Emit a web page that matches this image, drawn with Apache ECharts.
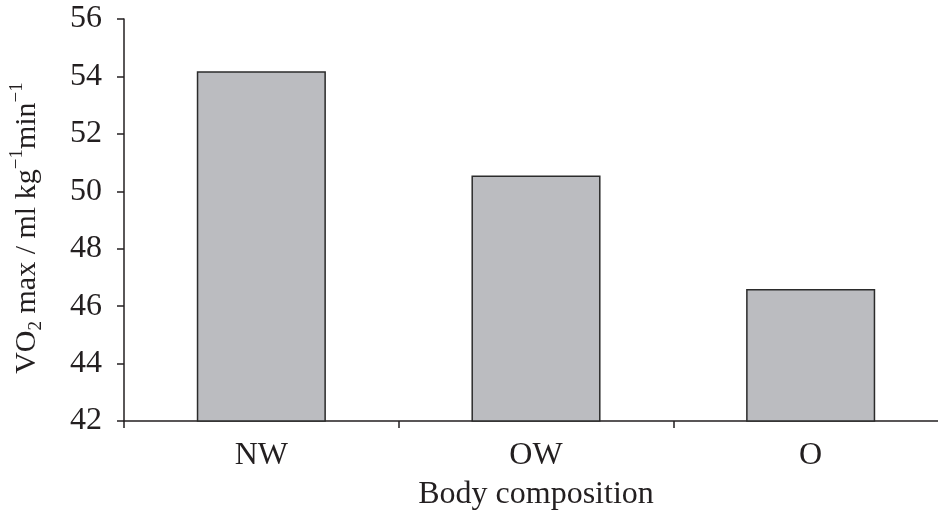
<!DOCTYPE html>
<html>
<head>
<meta charset="utf-8">
<script src="https://cdn.jsdelivr.net/npm/echarts@6/dist/echarts.min.js"></script>
<style>
  html, body { margin: 0; padding: 0; background: #fff; }
  #chart { width: 938px; height: 513px; }
</style>
</head>
<body>
<div id="chart"></div>
<script>
// body composition groups
var categories = ['NW', 'OW', 'O'];
// VO2 max, ml/kg/min
var vo2Values = [54.18, 50.55, 46.6];
var yTicks = [42, 44, 46, 48, 50, 52, 54, 56];

var FONT = '"Liberation Serif", "Times New Roman", serif';
var INK = '#231f20';

var chart = echarts.init(document.getElementById('chart'));

var option = {
  backgroundColor: '#fff',
  animation: false,
  grid: {
    left: 124,
    right: -10,
    top: 19,
    bottom: 92,
    outerBoundsMode: 'none',
    containLabel: false
  },
  xAxis: {
    type: 'category',
    data: categories,
    name: 'Body composition',
    nameLocation: 'middle',
    nameGap: 58,
    nameTextStyle: { fontFamily: FONT, fontSize: 32, color: INK },
    axisLine: { lineStyle: { color: INK, width: 1.5 } },
    axisTick: { show: true, length: 7, lineStyle: { color: INK, width: 1.5 } },
    axisLabel: { fontFamily: FONT, fontSize: 32, color: INK, margin: 19 }
  },
  yAxis: {
    type: 'value',
    min: yTicks[0],
    max: yTicks[yTicks.length - 1],
    interval: 2,
    name: '{n|VO}{s|2}{n| max / ml kg}{u|\u22121}{n|min}{u|\u22121}',
    nameLocation: 'middle',
    nameGap: 78,
    nameRotate: 90,
    nameTextStyle: {
      fontFamily: FONT,
      color: INK,
      padding: [0, 16, 0, 0],
      rich: {
        n: { fontFamily: FONT, fontSize: 30, color: INK, lineHeight: 38 },
        s: { fontFamily: FONT, fontSize: 19, color: INK, lineHeight: 38, verticalAlign: 'bottom' },
        u: { fontFamily: FONT, fontSize: 19, color: INK, lineHeight: 38, verticalAlign: 'top' }
      }
    },
    splitLine: { show: false },
    axisLine: { show: true, lineStyle: { color: INK, width: 1.5 } },
    axisTick: { show: true, length: 7, lineStyle: { color: INK, width: 1.5 } },
    axisLabel: { fontFamily: FONT, fontSize: 32, color: INK, margin: 22 }
  },
  series: [{
    type: 'bar',
    data: vo2Values,
    barWidth: '47%',
    itemStyle: {
      color: '#bbbcc0',
      borderColor: '#2b2b2b',
      borderWidth: 1.5
    }
  }]
};

chart.setOption(option);
</script>
</body>
</html>
